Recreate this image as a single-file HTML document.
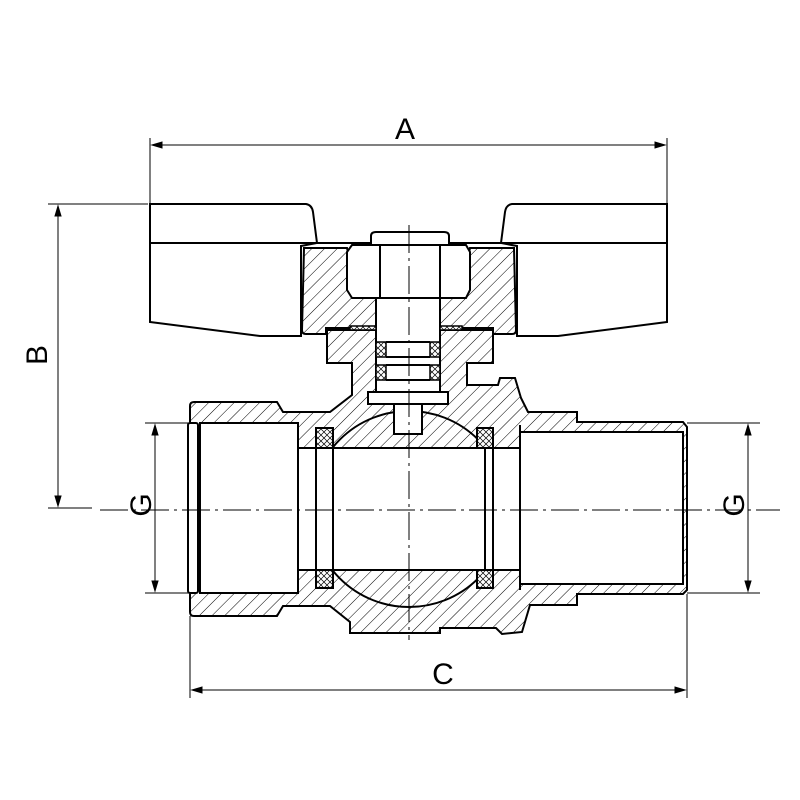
<!DOCTYPE html>
<html><head><meta charset="utf-8"><style>html,body{margin:0;padding:0;background:#fff}svg{display:block}</style></head>
<body>
<svg width="800" height="800" viewBox="0 0 800 800" xmlns="http://www.w3.org/2000/svg">
<defs>
<pattern id="h" patternUnits="userSpaceOnUse" width="9" height="9" patternTransform="rotate(45)">
<rect width="9" height="9" fill="#fff"/><line x1="0" y1="0" x2="0" y2="9" stroke="#000" stroke-width="1"/></pattern>
<pattern id="x" patternUnits="userSpaceOnUse" width="6" height="6">
<rect width="6" height="6" fill="#fff"/><path d="M0,0L6,6M6,0L0,6" stroke="#000" stroke-width="0.7"/></pattern>
<clipPath id="ballclip"><rect x="300" y="400" width="220" height="48"/><rect x="300" y="570" width="220" height="60"/></clipPath>
</defs>
<g fill="none" stroke="#000">
<!-- dimension A -->
<line x1="150" y1="138" x2="150" y2="204" stroke-width="1"/>
<line x1="667" y1="138" x2="667" y2="204" stroke-width="1"/>
<line x1="152" y1="145" x2="665" y2="145" stroke-width="1"/>
<path d="M152,145l10,-3v6z M665,145l-10,-3v6z" fill="#000"/>
<!-- dimension B -->
<line x1="48" y1="204" x2="148" y2="204" stroke-width="1"/>
<line x1="48" y1="508" x2="92" y2="508" stroke-width="1"/>
<line x1="58" y1="206" x2="58" y2="506" stroke-width="1"/>
<path d="M58,206l-3,10h6z M58,506l-3,-10h6z" fill="#000"/>
<!-- G left -->
<line x1="145" y1="423" x2="200" y2="423" stroke-width="1"/>
<line x1="145" y1="593" x2="200" y2="593" stroke-width="1"/>
<line x1="155" y1="425" x2="155" y2="591" stroke-width="1"/>
<path d="M155,425l-3,10h6z M155,591l-3,-10h6z" fill="#000"/>
<!-- G right -->
<line x1="687" y1="423" x2="760" y2="423" stroke-width="1"/>
<line x1="687" y1="593" x2="760" y2="593" stroke-width="1"/>
<line x1="748" y1="425" x2="748" y2="591" stroke-width="1"/>
<path d="M748,425l-3,10h6z M748,591l-3,-10h6z" fill="#000"/>
<!-- C -->
<line x1="190" y1="616" x2="190" y2="698" stroke-width="1"/>
<line x1="687" y1="594" x2="687" y2="698" stroke-width="1"/>
<line x1="192" y1="690" x2="685" y2="690" stroke-width="1"/>
<path d="M192,690l10,-3v6z M685,690l-10,-3v6z" fill="#000"/>

<!-- handle wings -->
<path d="M150,204 L306,204 Q312,205 313,212 L317,243 L301,246 L301,336 L260,336 L150,322 Z" fill="#fff" stroke-width="2"/>
<path d="M667,204 L512,204 Q506,205 505,212 L501,243 L517,246 L517,336 L558,336 L667,322 Z" fill="#fff" stroke-width="2"/>
<line x1="150" y1="243" x2="667" y2="243" stroke-width="2"/>
<!-- hub hatched -->
<path d="M304,248 L347,248 L358,298 L376,298 L376,328 L326,328 L326,334 L306,334 Q302,334 302,330 Z" fill="url(#h)" stroke-width="2"/>
<path d="M514,248 L470,248 L460,298 L440,298 L440,328 L493,328 L493,334 L512,334 Q516,334 516,330 Z" fill="url(#h)" stroke-width="2"/>

<!-- body -->
<path d="M194,402 L277,402 L283,412 L330,412 L352,395 L352,363 L327,363 L327,330 L493,330 L493,363 L467,363 L467,385 L498,385 L500,378 L515,378 L521,398 L528,412 L577,412 L577,422 L683,422 L687,427 L687,590 L683,594 L577,594 L577,605 L530,605 L522,632 L502,634 L496,628 L440,628 L440,633 L350,633 L350,622 L330,606 L283,606 L277,616 L194,616 Q190,616 190,612 L190,406 Q190,402 194,402 Z" fill="url(#h)" stroke-width="2"/>
<!-- bores -->
<rect x="200" y="423" width="98" height="170" fill="#fff" stroke-width="2"/>
<rect x="188" y="423" width="10" height="170" fill="#fff" stroke-width="2" rx="2"/>
<rect x="298" y="448" width="222" height="122" fill="#fff" stroke-width="2"/>
<rect x="520" y="432" width="163" height="152" fill="#fff" stroke-width="2"/>
<line x1="520" y1="425" x2="520" y2="590" stroke-width="2"/>
<!-- ball -->
<circle cx="409" cy="509" r="98" fill="url(#h)" clip-path="url(#ballclip)" stroke-width="2"/>
<line x1="333" y1="448" x2="485" y2="448" stroke-width="2"/>
<line x1="333" y1="570" x2="485" y2="570" stroke-width="2"/>
<!-- seats -->
<rect x="316" y="428" width="17" height="20" fill="url(#x)" stroke-width="2"/>
<rect x="477" y="428" width="16" height="20" fill="url(#x)" stroke-width="2"/>
<rect x="316" y="570" width="17" height="18" fill="url(#x)" stroke-width="2"/>
<rect x="477" y="570" width="16" height="18" fill="url(#x)" stroke-width="2"/>
<line x1="316" y1="448" x2="316" y2="570" stroke-width="2"/>
<line x1="333" y1="448" x2="333" y2="570" stroke-width="2"/>
<line x1="485" y1="448" x2="485" y2="570" stroke-width="2"/>
<line x1="493" y1="448" x2="493" y2="570" stroke-width="2"/>
<!-- stem -->
<rect x="376" y="298" width="64" height="100" fill="#fff" stroke-width="2"/>
<rect x="368" y="392" width="80" height="12" fill="#fff" stroke-width="2"/>
<rect x="394" y="404" width="28" height="30" fill="#fff" stroke-width="2"/>
<line x1="386" y1="342" x2="430" y2="342" stroke-width="2"/>
<line x1="386" y1="357" x2="430" y2="357" stroke-width="2"/>
<line x1="386" y1="365" x2="430" y2="365" stroke-width="2"/>
<line x1="386" y1="380" x2="430" y2="380" stroke-width="2"/>
<rect x="376" y="342" width="10" height="15" fill="url(#x)" stroke-width="1.5"/>
<rect x="430" y="342" width="10" height="15" fill="url(#x)" stroke-width="1.5"/>
<rect x="376" y="365" width="10" height="15" fill="url(#x)" stroke-width="1.5"/>
<rect x="430" y="365" width="10" height="15" fill="url(#x)" stroke-width="1.5"/>
<rect x="350" y="326" width="26" height="4" fill="url(#x)" stroke-width="1.5"/>
<rect x="440" y="326" width="22" height="4" fill="url(#x)" stroke-width="1.5"/>
<!-- nut -->
<path d="M371,245 L371,236 Q371,232 376,232 L444,232 Q449,232 449,236 L449,245" fill="#fff" stroke-width="2"/>
<path d="M352,245 L466,245 L470,252 L470,290 L466,298 L352,298 L347,290 L347,252 Z" fill="#fff" stroke-width="2"/>
<line x1="380" y1="245" x2="380" y2="298" stroke-width="2"/>
<line x1="440" y1="245" x2="440" y2="298" stroke-width="2"/>
<!-- centre lines -->
<line x1="100" y1="510" x2="780" y2="510" stroke-width="1" stroke-dasharray="28,5,3,5"/>
<line x1="409" y1="225" x2="409" y2="640" stroke-width="1" stroke-dasharray="28,5,3,5"/>
</g>
<g font-family="Liberation Sans, DejaVu Sans, sans-serif" font-size="30" fill="#000" text-anchor="middle">
<text x="405" y="139">A</text>
<text x="443" y="684">C</text>
<text transform="translate(47,355) rotate(-90)">B</text>
<text transform="translate(151,505) rotate(-90)">G</text>
<text transform="translate(744,505) rotate(-90)">G</text>
</g>
</svg>
</body></html>
